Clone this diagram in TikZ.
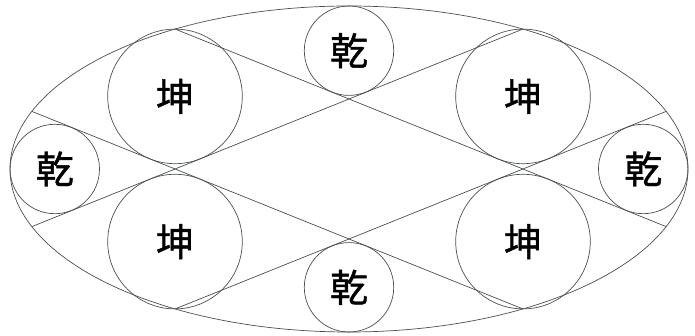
\documentclass[tikz,border=0pt]{standalone}
\usepackage{fontspec}
\newfontfamily\cjk[FakeBold=1.2]{Noto Sans CJK SC}
\usepackage{tikz}
\usepackage{xcolor}
\definecolor{ink}{RGB}{72,80,76}

\tikzset{
  ring/.style={circle, draw=ink, line width=0.7pt, inner sep=0pt,
    font=\cjk\fontsize{38}{38}\selectfont},
  qian/.style={ring, minimum size=89.4pt},
  kun/.style={ring, minimum size=134.6pt},
  chord/.style={draw=ink, line width=0.7pt}
}

\begin{document}
\begin{tikzpicture}[x=1pt,y=1pt]
    \useasboundingbox (-349,-167) rectangle (346,169);
    \draw[chord] (0,0) ellipse (339pt and 163pt);
    % ends of the four chords on the ellipse
    \coordinate (ul) at (-317.1,57.6);
    \coordinate (ll) at (-317.1,-57.6);
    \coordinate (ur) at (317.1,57.6);
    \coordinate (lr) at (317.1,-57.6);
    \coordinate (tl) at (-173.8,139.9);
    \coordinate (tr) at (173.8,139.9);
    \coordinate (bl) at (-173.8,-139.9);
    \coordinate (br) at (173.8,-139.9);
    \draw[chord] (ul) -- (br);
    \draw[chord] (ll) -- (tr);
    \draw[chord] (tl) -- (lr);
    \draw[chord] (bl) -- (ur);
    % circles
    \node[qian] (qtop) at (0,118.3) {乾};
    \node[qian] (qbot) at (0,-118.3) {乾};
    \node[qian] (qleft) at (-294.2,0) {乾};
    \node[qian] (qright) at (294.2,0) {乾};
    \node[kun] (kunul) at (-174,72.6) {坤};
    \node[kun] (kunur) at (174,72.6) {坤};
    \node[kun] (kunll) at (-174,-72.6) {坤};
    \node[kun] (kunlr) at (174,-72.6) {坤};
\end{tikzpicture}
\end{document}
